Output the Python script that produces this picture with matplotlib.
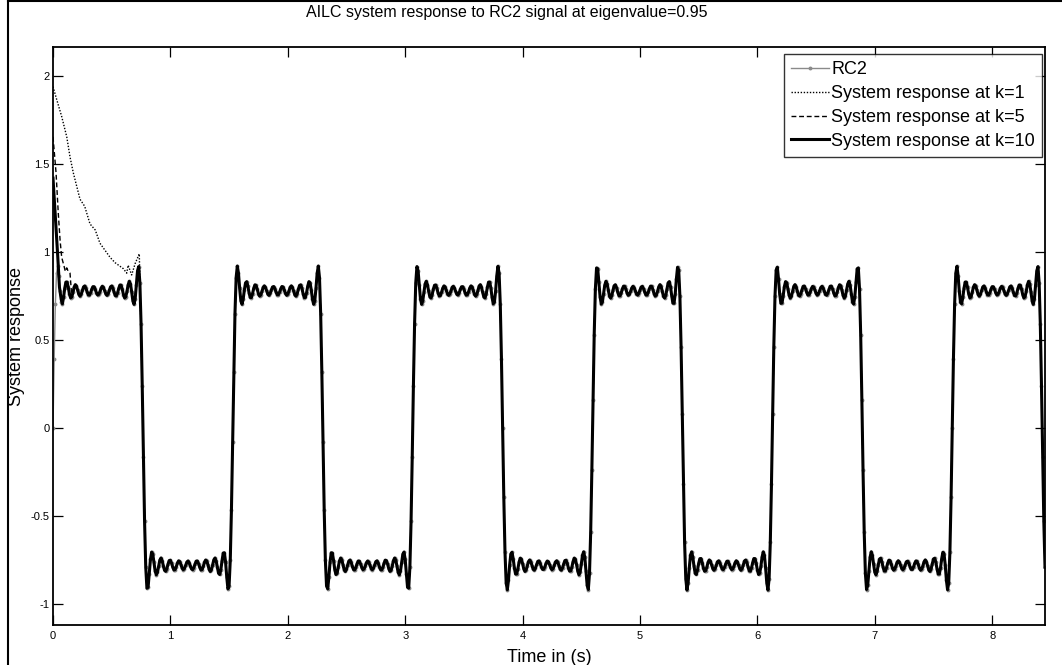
import numpy as np
import matplotlib
matplotlib.use("Agg")
import matplotlib.pyplot as plt
from matplotlib.lines import Line2D

plt.rcParams["font.family"] = ["Liberation Sans", "DejaVu Sans"]

# RC2 reference: band-limited square wave (odd harmonics 1..19)
rc2_amplitude = 0.78
rc2_period = 1.532
rc2_harmonic_count = 10
sample_step = 0.01
t_end = 8.45

# Early iterations: start-up transients before they settle onto RC2
k1_t = [0.0, 0.03, 0.074, 0.117, 0.145, 0.173, 0.23, 0.27, 0.315, 0.36, 0.40,
        0.443, 0.486, 0.528, 0.57, 0.60, 0.628, 0.64, 0.67, 0.70, 0.735]
k1_y = [1.94, 1.87, 1.77, 1.655, 1.54, 1.45, 1.30, 1.26, 1.16, 1.125, 1.05,
        1.01, 0.97, 0.94, 0.92, 0.905, 0.88, 0.925, 0.87, 0.935, 0.99]
k1_join = 0.76

k5_t = [0.0, 0.026, 0.045, 0.06, 0.074, 0.094, 0.105, 0.117, 0.13, 0.145]
k5_y = [1.655, 1.45, 1.22, 1.07, 0.97, 0.92, 0.89, 0.91, 0.89, 0.88]
k5_join = 0.16

k10_t = [0.0, 0.02, 0.04, 0.055, 0.07]
k10_y = [1.42, 1.20, 0.98, 0.80, 0.73]
k10_join = 0.08

x_ticks = [0, 1, 2, 3, 4, 5, 6, 7, 8]
y_ticks = [-1, -0.5, 0, 0.5, 1, 1.5, 2]
y_tick_labels = ["-1", "-0.5", "0", "0.5", "1", "1.5", "2"]

title_text = "AILC system response to RC2 signal at eigenvalue=0.95"
legend_labels = ["RC2", "System response at k=1", "System response at k=5",
                 "System response at k=10"]

# ---- build series ----
t = np.arange(0.0, t_end + sample_step / 2, sample_step)
w = 2 * np.pi / rc2_period
rc2 = np.zeros_like(t)
for k in range(1, rc2_harmonic_count + 1):
    n = 2 * k - 1
    rc2 += np.sin(n * w * t) / n
rc2 *= 4 * rc2_amplitude / np.pi


def response(tr_t, tr_y, join):
    mask = t >= join
    return (np.concatenate([tr_t, t[mask]]),
            np.concatenate([tr_y, rc2[mask]]))


k1_tt, k1_yy = response(k1_t, k1_y, k1_join)
k5_tt, k5_yy = response(k5_t, k5_y, k5_join)
k10_tt, k10_yy = response(k10_t, k10_y, k10_join)

# ---- figure ----
W, H = 1062, 665
fig = plt.figure(figsize=(W / 100, H / 100), dpi=100)
ax = fig.add_axes([53 / W, 1 - 625 / H, 992 / W, 578 / H])

gray = "#8a8a8a"
ax.plot(t, rc2, color=gray, lw=1.0, marker="o", ms=2.8, mew=0,
        label=legend_labels[0])
ax.plot(k1_tt, k1_yy, color="black", lw=1.0, ls=(0, (1, 1.2)),
        label=legend_labels[1])
ax.plot(k5_tt, k5_yy, color="black", lw=1.0, ls=(0, (3.5, 2)),
        label=legend_labels[2])
ax.plot(k10_tt, k10_yy, color="black", lw=2.2, label=legend_labels[3])

ax.set_xlim(0, t_end)
ax.set_ylim(-1.119, 2.165)
ax.set_xticks(x_ticks)
ax.set_xticklabels([str(v) for v in x_ticks])
ax.set_yticks(y_ticks)
ax.set_yticklabels(y_tick_labels)
ax.tick_params(direction="in", top=True, right=True, length=7, width=0.9,
               labelsize=8, pad=2.5, colors="black")
ax.tick_params(axis="x", pad=4)
for s in ax.spines.values():
    s.set_linewidth(1.3)

ax.set_xlabel("Time in (s)", fontsize=13, labelpad=6)
ax.set_ylabel("System response", fontsize=13, labelpad=4)
fig.text(507 / W, 1 - 13 / H, title_text, fontsize=11.5, ha="center",
         va="center")

leg = ax.legend(loc="upper right", bbox_to_anchor=(1042 / W, 1 - 54 / H),
                bbox_transform=fig.transFigure, borderaxespad=0,
                fontsize=13, frameon=True, fancybox=False, shadow=False,
                handlelength=2.1, handletextpad=0.1, labelspacing=0.38,
                borderpad=0.4)
leg.get_frame().set_edgecolor("black")
leg.get_frame().set_linewidth(1.0)

# page frame lines
fig.add_artist(Line2D([7.5 / W, 7.5 / W], [0, 1 - 1 / H],
                      transform=fig.transFigure, color="black", lw=1.5))
fig.add_artist(Line2D([7.5 / W, 1], [1 - 1 / H, 1 - 1 / H],
                      transform=fig.transFigure, color="black", lw=1.5))

fig.savefig("out.png", dpi=100)
